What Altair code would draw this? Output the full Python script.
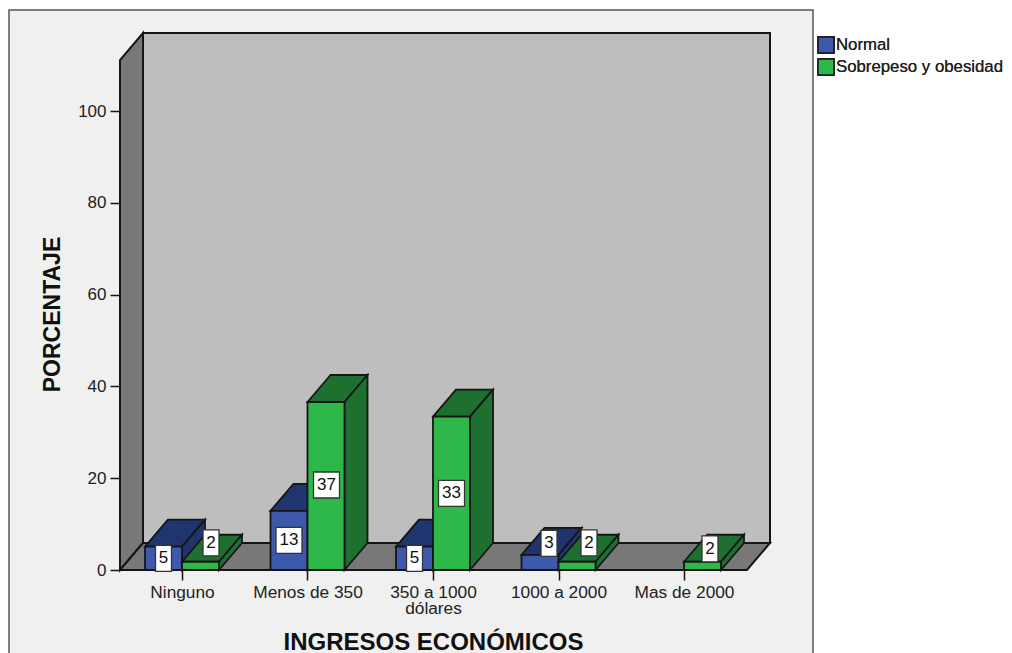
import altair as alt
import pandas as pd

# ---- data
categories = ["Ninguno", "Menos de 350", "350 a 1000 dólares", "1000 a 2000", "Mas de 2000"]
normal_values = [5.1, 12.9, 5.1, 3.3, None]
normal_labels = ["5", "13", "5", "3", None]
obese_values = [1.8, 36.6, 33.4, 1.8, 1.8]
obese_labels = ["2", "37", "33", "2", "2"]
series_names = ["Normal", "Sobrepeso y obesidad"]
y_ticks = [0, 20, 40, 60, 80, 100]

# ---- layout (pixels -> scale units)
PX = 4.59            # pixels per percentage point
W, H = 650, 537      # plot area
DX, DY = 23, 27 / PX # depth of the 3D projection
STEP, FIRST, BW = 125.5, 62, 37
YMAX = H / PX
centers = [FIRST + i * STEP for i in range(len(categories))]
# small bars have their tag moved onto the top face: (dx px, dy px up)
normal_shift = [(0, 0), (0, 0), (0, 0), (9, 19)]
obese_shift = [(10.5, 23), (0.5, 1), (0, 0), (12, 23), (7.5, 17)]

BLACK = "#151515"
COL = {"Normal": ("#3e58ac", "#20356f"), "Sobrepeso y obesidad": ("#2fb84a", "#1d7030")}

xs = alt.Scale(domain=[0, W], range=[0, W], nice=False, zero=False)
ys = alt.Scale(domain=[0, YMAX], nice=False, zero=False)
X = lambda f="x": alt.X(f + ":Q", scale=xs)
Y = lambda f="y": alt.Y(f + ":Q", scale=ys, stack=None)


def poly_h(rows, color, sw=1.8):
    """Parallelograms whose horizontal edges are the two data rows."""
    return alt.Chart(pd.DataFrame(rows)).mark_area(
        orient="horizontal", color=color, stroke=BLACK, strokeWidth=sw, clip=False
    ).encode(y=Y(), x=X(), x2=alt.X2("x2:Q"), detail="id:N")


def poly_v(rows, color, sw=1.8):
    """Parallelograms whose vertical edges are the two data rows."""
    return alt.Chart(pd.DataFrame(rows)).mark_area(
        orient="vertical", color=color, stroke=BLACK, strokeWidth=sw, clip=False
    ).encode(x=X(), y=Y(), y2=alt.Y2("y2:Q"), detail="id:N")


def rect(rows, fill, stroke, sw):
    return alt.Chart(pd.DataFrame(rows)).mark_rect(
        fill=fill, stroke=stroke, strokeWidth=sw, clip=False
    ).encode(x=X("x"), x2=alt.X2("x2:Q"), y=Y("y"), y2=alt.Y2("y2:Q"))


# axes: first layer, so that its axis definitions win when layers are merged
label_map = ",".join(
    f"'{c:g}':{'[' + repr('350 a 1000') + ',' + repr('dólares') + ']' if n.startswith('350') else repr(n)}"
    for c, n in zip(centers, categories)
)
axes_df = pd.DataFrame({"x": [0.0], "y": [0.0]})
axes = alt.Chart(axes_df).mark_point(opacity=0).encode(
    x=alt.X(
        "x:Q", scale=xs,
        axis=alt.Axis(
            values=centers, grid=False, domain=False, tickColor=BLACK, tickWidth=1.5, tickSize=10, zindex=1,
            labelExpr="{" + label_map + "}[datum.value + '']", labelFont="Liberation Sans", labelFontSize=17.3,
            labelColor="#222222", labelPadding=3, labelAlign="center", labelOverlap=False, labelLineHeight=16,
            title="INGRESOS ECONÓMICOS", titleFont="Liberation Sans", titleFontSize=24, titleFontWeight="bold",
            titleColor="#111111", titleX=313, titleY=79, titleAlign="center", titleAnchor="start",
            titleBaseline="alphabetic",
        ),
    ),
    y=alt.Y(
        "y:Q", scale=ys,
        axis=alt.Axis(
            values=y_ticks, grid=False, domain=False, tickColor=BLACK, tickWidth=1.5, tickSize=10, zindex=1,
            labelFont="Liberation Sans", labelFontSize=17, labelColor="#222222", labelPadding=4,
            title="PORCENTAJE", titleFont="Liberation Sans", titleFontSize=23, titleFontWeight="bold",
            titleColor="#111111", titleX=-61, titleY=281, titleAlign="center", titleAnchor="start",
            titleBaseline="alphabetic",
        ),
    ),
)

# panel, walls and floor
panel = rect([{"x": -111, "x2": 693, "y": 560 / PX, "y2": -100 / PX}], "#f0f0f0", "#555555", 1.5)
back = rect([{"x": DX, "x2": W, "y": DY, "y2": YMAX}], "#bebebe", BLACK, 2)
left_wall = poly_v(
    [{"id": 0, "x": 0, "y": 0, "y2": YMAX - DY}, {"id": 0, "x": DX, "y": DY, "y2": YMAX}],
    "#787878", 2,
)
floor = poly_h(
    [{"id": 0, "y": 0, "x": 0, "x2": W - DX}, {"id": 0, "y": DY, "x": DX, "x2": W}],
    "#787878", 2,
)

tops, sides, fronts, tags = {}, {}, {}, []
for name, vals, labs, shifts, start in [
    (series_names[0], normal_values, normal_labels, normal_shift, -BW),
    (series_names[1], obese_values, obese_labels, obese_shift, 0),
]:
    t, s, f = [], [], []
    for i, v in enumerate(vals):
        if v is None:
            continue
        x0 = centers[i] + start
        x1 = x0 + BW
        t += [{"id": i, "y": v, "x": x0, "x2": x1}, {"id": i, "y": v + DY, "x": x0 + DX, "x2": x1 + DX}]
        s += [{"id": i, "x": x1, "y": 0, "y2": v}, {"id": i, "x": x1 + DX, "y": DY, "y2": v + DY}]
        f.append({"x": x0, "x2": x1, "y": 0, "y2": v, "serie": name})
        cx = (x0 + x1) / 2 + shifts[i][0]
        cy = v / 2 + shifts[i][1] / PX
        hw = 8 if len(labs[i]) == 1 else 13
        hh = 13 / PX
        tags.append({"x": cx - hw, "x2": cx + hw, "y": cy - hh, "y2": cy + hh, "cx": cx, "cy": cy, "t": labs[i]})
    tops[name], sides[name], fronts[name] = t, s, f

color = alt.Color(
    "serie:N",
    scale=alt.Scale(domain=series_names, range=[COL[n][0] for n in series_names]),
    legend=alt.Legend(
        orient="none", legendX=697, legendY=3, title=None, symbolType="square", symbolSize=256,
        symbolStrokeColor=BLACK, symbolStrokeWidth=1.5, symbolOpacity=1, labelFont="Liberation Sans",
        labelFontSize=16.8, labelColor="#222222", labelOffset=1, rowPadding=0, labelLimit=300,
    ),
)


def front_layer(name):
    return alt.Chart(pd.DataFrame(fronts[name])).mark_rect(
        stroke=BLACK, strokeWidth=1.8, clip=False
    ).encode(x=X(), x2=alt.X2("x2:Q"), y=Y(), y2=alt.Y2("y2:Q"), color=color)


layers = [axes, panel, back, left_wall, floor]
for n in series_names:
    layers += [poly_h(tops[n], COL[n][1]), poly_v(sides[n], COL[n][1]), front_layer(n)]

tag_df = pd.DataFrame(tags)
layers.append(
    alt.Chart(tag_df).mark_rect(fill="white", stroke="#333333", strokeWidth=1.3, clip=False).encode(
        x=X(), x2=alt.X2("x2:Q"), y=Y(), y2=alt.Y2("y2:Q")
    )
)
layers.append(
    alt.Chart(tag_df).mark_text(font="Liberation Sans", fontSize=17, color="#111111", clip=False).encode(
        x=X("cx"), y=Y("cy"), text="t:N"
    )
)

chart = alt.layer(*layers).resolve_scale(color="independent").properties(
    width=W, height=H, background="white",
    autosize=alt.AutoSizeParams(type="none"),
    padding={"left": 112, "top": 25, "right": 234, "bottom": 83},
).configure_view(stroke=None)

chart.save("out.html", embed_options={"renderer": "svg", "actions": False})
